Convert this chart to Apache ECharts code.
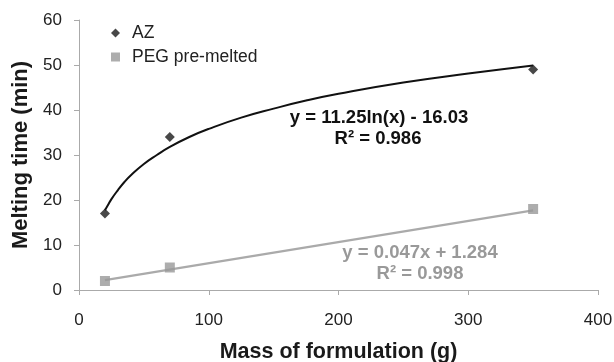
<!DOCTYPE html>
<html><head><meta charset="utf-8">
<script src="https://cdn.jsdelivr.net/npm/echarts@6/dist/echarts.min.js"></script>
<style>html,body{margin:0;padding:0;background:#fff}#c{width:614px;height:362px}</style>
</head><body><div id="c"></div>
<script>
const azMass = [20, 70, 350];
const azTime = [17, 34, 49];
const pegMass = [20, 70, 350];
const pegTime = [2, 5, 18];
// AZ log trendline
const azTrendX = [20, 22, 25, 30, 35, 40, 50, 60, 70, 85, 100, 125, 150, 175, 200, 250, 300, 350];
const azTrendY = [17.7, 18.7, 20.2, 22.2, 24.0, 25.5, 28.0, 30.0, 31.8, 34.0, 35.8, 38.3, 40.3, 42.1, 43.6, 46.1, 48.1, 49.9];
// PEG linear trendline end points
const pegTrendX = [20, 350];
const pegTrendY = [2.2, 17.7];
const xTicks = [0, 100, 200, 300, 400];
const yTicks = [0, 10, 20, 30, 40, 50, 60];
const azEq = ['y = 11.25ln(x) - 16.03', 'R² = 0.986'];
const pegEq = ['y = 0.047x + 1.284', 'R² = 0.998'];

const zip = (a, b) => a.map((v, i) => [v, b[i]]);
const font = '"Liberation Sans", Arial, sans-serif';
const chart = echarts.init(document.getElementById('c'), null, {renderer: 'canvas'});
function eqText(x, y, txt, color) {
  return {type: 'text', x: x, y: y, z: 10,
    style: {text: txt, fill: color, font: 'bold 18.5px ' + font,
            align: 'center', verticalAlign: 'middle', textAlign: 'center', textVerticalAlign: 'middle'}};
}
chart.setOption({
  animation: false,
  textStyle: {fontFamily: font},
  grid: {left: 79, right: 16, top: 20, bottom: 72, containLabel: false, outerBoundsMode: 'none'},
  legend: {
    left: 106, top: 19, orient: 'vertical', itemGap: 6,
    itemWidth: 9, itemHeight: 9,
    textStyle: {fontFamily: font, fontSize: 17.5, color: '#222', padding: [0, 0, 0, 7]},
    data: [{name: 'AZ', icon: 'diamond', itemStyle: {color: '#1a1a1a'}},
           {name: 'PEG pre-melted', icon: 'rect', itemStyle: {color: '#999'}}]
  },
  xAxis: {
    type: 'value', min: xTicks[0], max: xTicks[xTicks.length - 1], interval: 100,
    name: 'Mass of formulation (g)', nameLocation: 'middle', nameGap: 51,
    nameTextStyle: {fontFamily: font, fontSize: 21.5, fontWeight: 'bold', color: '#1a1a1a'},
    axisLine: {show: true, lineStyle: {color: '#aaa', width: 1}},
    axisTick: {show: true, length: 5, lineStyle: {color: '#aaa'}},
    axisLabel: {fontFamily: font, fontSize: 17, color: '#222', margin: 22},
    splitLine: {show: false}
  },
  yAxis: {
    type: 'value', min: yTicks[0], max: yTicks[yTicks.length - 1], interval: 10,
    name: 'Melting time (min)', nameLocation: 'middle', nameGap: 42,
    nameTextStyle: {fontFamily: font, fontSize: 22, fontWeight: 'bold', color: '#1a1a1a'},
    axisLine: {show: true, lineStyle: {color: '#aaa', width: 1}},
    axisTick: {show: true, length: 5, lineStyle: {color: '#aaa'}},
    axisLabel: {fontFamily: font, fontSize: 17, color: '#222', margin: 17},
    splitLine: {show: false}
  },
  series: [
    {name: 'AZ trend', type: 'line', data: zip(azTrendX, azTrendY), smooth: true, showSymbol: false,
     lineStyle: {color: '#111', width: 2}, z: 2, silent: true},
    {name: 'PEG trend', type: 'line', data: zip(pegTrendX, pegTrendY), showSymbol: false,
     lineStyle: {color: '#aaa', width: 2.2}, z: 2, silent: true},
    {name: 'AZ', type: 'scatter', data: zip(azMass, azTime), symbol: 'diamond', symbolSize: 10,
     itemStyle: {color: '#1a1a1a'}, z: 3},
    {name: 'PEG pre-melted', type: 'scatter', data: zip(pegMass, pegTime), symbol: 'rect', symbolSize: 10,
     itemStyle: {color: '#999'}, z: 3}
  ],
  graphic: [
    eqText(379, 118, azEq[0], '#111'),
    eqText(378, 139, azEq[1], '#111'),
    eqText(420, 253, pegEq[0], '#999'),
    eqText(420, 274, pegEq[1], '#999')
  ]
});
</script></body></html>
